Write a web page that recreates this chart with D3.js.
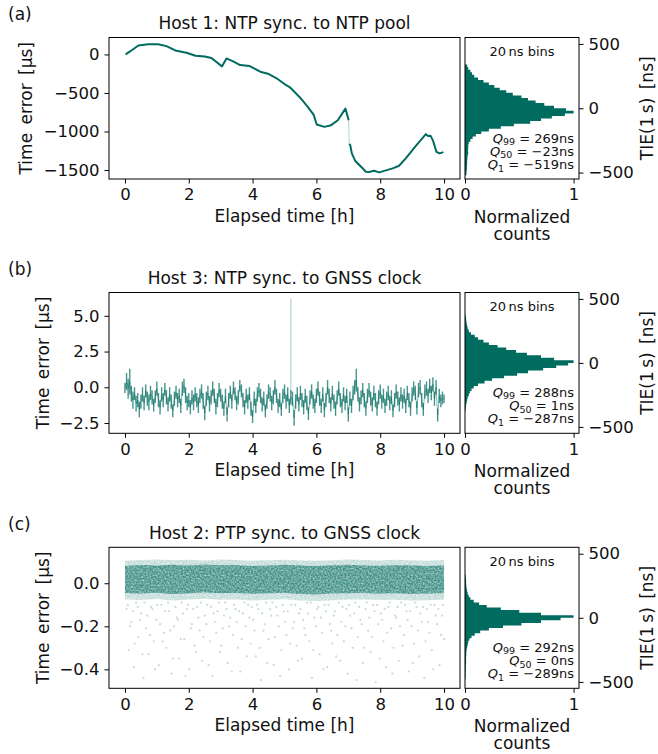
<!DOCTYPE html>
<html><head><meta charset="utf-8">
<script src="https://cdn.jsdelivr.net/npm/d3@7"></script>
<style>
body{margin:0;background:#fff;}
text{font-family:"DejaVu Sans",sans-serif;fill:#111;}
</style></head><body>
<svg id="chart" width="658" height="754"></svg>
<script>
// ---------------- data ----------------
const xTicks = [0, 2, 4, 6, 8, 10];
const histTicks = [-500, 0, 500];
const countTicks = [0, 1];
const titles = ["Host 1: NTP sync. to NTP pool", "Host 3: NTP sync. to GNSS clock", "Host 2: PTP sync. to GNSS clock"];
const panelLabels = ["(a)", "(b)", "(c)"];
const quantiles = [["269", "\u221223", "\u2212519"], ["288", "1", "\u2212287"], ["292", "0", "\u2212289"]];

// (a) Host 1 time error [µs]
const aHours1 = [0.02,0.16,0.42,0.73,1.04,1.30,1.61,1.93,2.21,2.50,2.71,3.04,3.18,3.39,3.61,3.91,4.27,4.48,4.74,5.00,5.16,5.47,5.73,5.91,6.01,6.25,6.46,6.67,6.91,7.01];
const aValues1 = [0,39,116,133,133,108,47,22,-17,-26,-47,-155,-52,-90,-138,-151,-229,-250,-306,-384,-423,-552,-681,-780,-910,-940,-918,-854,-703,-854];
const aHours2 = [7.03,7.06,7.11,7.22,7.40,7.55,7.65,7.81,7.97,8.18,8.39,8.59,8.80,9.11,9.43,9.50,9.58,9.66,9.76,9.86,9.98];
const aValues2 = [-1160,-1177,-1285,-1384,-1458,-1522,-1525,-1509,-1531,-1505,-1479,-1445,-1350,-1190,-1035,-1060,-1057,-1125,-1264,-1285,-1268];

// (b) Host 3 time error [µs]: spread of samples in each 0.05 h slot (high / low)
const bStep = 0.05;
const bHigh = [0.3,1.0,0.6,1.3,0.1,-0.3,0.0,-0.6,-0.4,-1.0,-0.5,0.0,-0.6,0.2,-0.3,-0.5,0.1,-0.2,-0.8,-0.2,
0.4,-0.4,-0.9,0.0,-0.4,0.3,-0.2,-0.7,0.0,-0.5,-1.2,-0.3,0.1,-0.4,-0.1,-0.8,0.4,0.6,0.0,-0.6,
-0.4,-0.9,-0.2,-0.5,0.0,-0.4,-0.7,-0.1,0.2,-0.4,-1.3,-0.3,0.1,-0.6,-0.2,0.4,-0.1,-0.8,-0.4,0.3,
-0.1,-0.5,-1.0,-0.1,-1.4,-0.4,0.1,-0.5,0.4,0.0,-0.6,-0.2,0.5,0.2,-0.4,-0.9,-0.1,-0.5,0.0,-1.0,
-1.6,-0.3,-0.8,0.0,0.3,-0.1,-0.7,-0.3,-1.2,-0.5,0.2,0.0,-0.6,-0.2,0.5,-0.1,-0.8,-0.4,-1.1,-0.1,
0.2,-0.5,0.0,-0.8,-0.2,-0.3,-1.6,-0.5,0.0,-0.7,0.1,-0.4,-0.9,-0.1,-0.6,-1.4,-0.2,0.2,-0.5,-0.8,
-0.1,0.4,-0.3,-0.8,0.0,-1.1,-0.4,0.5,-0.1,-0.7,0.1,-0.5,-1.0,-0.2,0.4,-0.4,-0.8,0.0,-0.6,-0.1,
-1.4,-0.3,-0.8,0.1,0.5,1.3,0.0,-0.7,-0.2,0.3,-0.4,-1.0,-0.1,0.3,-0.3,-0.7,0.1,-0.4,-1.0,-0.2,
0.2,-0.5,-0.1,-0.8,-0.3,0.1,-0.6,-0.2,-1.2,-0.4,0.2,-0.3,-0.7,0.0,-0.5,-0.1,-0.8,0.1,-0.4,-1.0,
0.0,0.4,0.1,-1.0,0.3,0.5,-0.4,-1.1,0.2,0.4,-0.1,0.6,0.1,0.7,-0.3,0.5,-1.5,-0.1,-0.5,-0.3,-0.5];
const bLow = [-0.4,-0.2,-0.8,-0.5,-1.0,-1.5,-0.9,-1.7,-1.4,-2.1,-1.5,-1.0,-1.6,-0.7,-1.3,-1.6,-0.9,-1.2,-1.7,-1.1,
-0.6,-1.4,-1.9,-1.0,-1.4,-0.6,-1.2,-1.7,-1.0,-1.5,-2.1,-1.3,-0.8,-1.4,-1.1,-1.8,-0.6,-0.4,-1.1,-1.6,
-1.4,-1.9,-1.2,-1.6,-1.0,-1.4,-1.8,-1.1,-0.8,-1.5,-2.3,-1.3,-0.9,-1.7,-1.2,-0.6,-1.1,-1.9,-1.4,-0.7,
-1.0,-1.5,-2.0,-1.1,-2.4,-1.4,-0.8,-1.5,-0.5,-0.9,-1.6,-1.2,-0.3,-0.7,-1.4,-1.9,-1.1,-1.5,-0.9,-2.0,
-2.5,-1.3,-1.8,-1.0,-0.7,-1.1,-1.7,-1.3,-2.1,-1.5,-0.8,-1.0,-1.6,-1.2,-0.5,-1.1,-1.8,-1.4,-2.0,-1.1,
-0.8,-1.5,-1.0,-1.8,-1.2,-1.3,-2.7,-1.5,-1.0,-1.7,-0.9,-1.4,-1.9,-1.1,-1.6,-2.3,-1.2,-0.8,-1.5,-1.8,
-1.1,-0.6,-1.3,-1.8,-1.0,-2.1,-1.4,-0.5,-1.1,-1.7,-0.9,-1.5,-2.0,-1.2,-0.6,-1.4,-1.8,-1.0,-1.6,-1.1,
-2.4,-1.3,-1.8,-0.9,-0.5,-0.3,-1.0,-1.7,-1.2,-0.7,-1.4,-2.0,-1.1,-0.7,-1.3,-1.7,-0.9,-1.4,-2.0,-1.2,
-0.8,-1.5,-1.1,-1.8,-1.3,-0.9,-1.6,-1.2,-2.1,-1.4,-0.8,-1.3,-1.7,-1.0,-1.5,-1.1,-1.8,-0.9,-1.4,-2.0,
-1.0,-0.6,-0.9,-1.9,-0.7,-0.5,-1.4,-2.0,-0.8,-0.6,-1.1,-0.4,-0.9,-0.3,-1.3,-0.5,-2.4,-1.1,-1.4,-1.2,-1.1];
const bSpikeHours = [5.2, 5.2];
const bSpikeValues = [-0.4, 6.2];

// (c) Host 2 time error [µs]: dense band envelopes and sparse outliers
const cHours = [0,0.5,1,1.5,2,2.5,3,3.5,4,4.5,5,5.5,6,6.5,7,7.5,8,8.5,9,9.5,10];
const cFringeTop = [0.105,0.108,0.11,0.107,0.109,0.106,0.11,0.108,0.105,0.107,0.109,0.106,0.104,0.107,0.11,0.108,0.106,0.109,0.107,0.105,0.108];
const cCoreTop = [0.08,0.085,0.083,0.086,0.082,0.087,0.084,0.085,0.08,0.083,0.086,0.082,0.08,0.084,0.086,0.083,0.081,0.085,0.083,0.08,0.082];
const cCoreBottom = [-0.045,-0.048,-0.044,-0.05,-0.046,-0.043,-0.047,-0.045,-0.049,-0.046,-0.044,-0.05,-0.052,-0.048,-0.046,-0.045,-0.049,-0.047,-0.05,-0.048,-0.046];
const cFringeBottom = [-0.075,-0.078,-0.073,-0.08,-0.076,-0.072,-0.077,-0.075,-0.08,-0.077,-0.074,-0.08,-0.083,-0.079,-0.076,-0.075,-0.078,-0.077,-0.08,-0.079,-0.077];
const cOutHours = [0.05,0.12,0.2,0.28,0.35,0.42,0.5,0.58,0.66,0.74,0.82,0.9,0.98,1.06,1.14,1.22,1.3,1.38,1.46,1.54,1.62,1.7,1.78,1.86,1.94,2.02,2.1,2.18,2.26,2.34,2.42,2.5,2.58,2.66,2.74,2.82,2.9,2.98,3.06,3.14,3.22,3.3,3.38,3.46,3.54,3.62,3.7,3.78,3.86,3.94,4.02,4.1,4.18,4.26,4.34,4.42,4.5,4.58,4.66,4.74,4.82,4.9,4.98,5.06,5.14,5.22,5.3,5.38,5.46,5.54,5.62,5.7,5.78,5.86,5.94,6.02,6.1,6.18,6.26,6.34,6.42,6.5,6.58,6.66,6.74,6.82,6.9,6.98,7.06,7.14,7.22,7.3,7.38,7.46,7.54,7.62,7.7,7.78,7.86,7.94,8.02,8.1,8.18,8.26,8.34,8.42,8.5,8.58,8.66,8.74,8.82,8.9,8.98,9.06,9.14,9.22,9.3,9.38,9.46,9.54,9.62,9.7,9.78,9.86,9.94,10.0];
const cOutValues = [-0.12,-0.31,-0.18,-0.39,-0.09,-0.25,-0.14,-0.44,-0.21,-0.33,-0.11,-0.27,-0.17,-0.38,-0.1,-0.23,-0.3,-0.13,-0.42,-0.2,-0.16,-0.35,-0.09,-0.26,-0.12,-0.4,-0.19,-0.29,-0.11,-0.22,-0.36,-0.15,-0.1,-0.27,-0.43,-0.18,-0.13,-0.32,-0.21,-0.09,-0.37,-0.16,-0.24,-0.12,-0.3,-0.41,-0.14,-0.2,-0.1,-0.28,-0.17,-0.34,-0.12,-0.45,-0.22,-0.09,-0.26,-0.15,-0.38,-0.11,-0.2,-0.31,-0.13,-0.24,-0.4,-0.1,-0.18,-0.29,-0.14,-0.35,-0.21,-0.09,-0.27,-0.44,-0.16,-0.12,-0.33,-0.23,-0.1,-0.39,-0.19,-0.28,-0.13,-0.24,-0.36,-0.11,-0.2,-0.42,-0.15,-0.3,-0.09,-0.25,-0.17,-0.37,-0.12,-0.22,-0.32,-0.1,-0.46,-0.19,-0.14,-0.27,-0.39,-0.11,-0.21,-0.3,-0.16,-0.36,-0.09,-0.24,-0.13,-0.41,-0.2,-0.28,-0.11,-0.34,-0.18,-0.44,-0.12,-0.23,-0.31,-0.1,-0.19,-0.38,-0.15,-0.26];
const cOutliers2 = [[0.09,-0.1],[0.16,-0.2],[0.25,-0.13],[0.31,-0.28],[0.4,-0.11],[0.47,-0.17],[0.55,-0.33],[0.61,-0.09],[0.7,-0.15],[0.79,-0.24],[0.86,-0.12],[0.94,-0.4],[1.02,-0.1],[1.1,-0.19],[1.18,-0.27],[1.26,-0.13],[1.35,-0.09],[1.42,-0.22],[1.5,-0.35],[1.58,-0.11],[1.66,-0.17],[1.75,-0.26],[1.82,-0.14],[1.9,-0.43],[1.98,-0.1],[2.06,-0.21],[2.14,-0.12],[2.22,-0.32],[2.3,-0.16],[2.38,-0.09],[2.46,-0.25],[2.55,-0.19],[2.62,-0.38],[2.7,-0.11],[2.78,-0.14],[2.86,-0.23],[2.95,-0.09],[3.02,-0.29],[3.1,-0.15],[3.18,-0.12],[3.26,-0.2],[3.35,-0.41],[3.42,-0.1],[3.5,-0.18],[3.58,-0.13],[3.66,-0.26],[3.74,-0.09],[3.82,-0.34],[3.9,-0.16],[3.98,-0.11],[4.06,-0.22],[4.14,-0.1],[4.22,-0.3],[4.3,-0.14],[4.38,-0.19],[4.46,-0.37],[4.55,-0.12],[4.62,-0.09],[4.7,-0.25],[4.78,-0.15],[4.86,-0.43],[4.94,-0.1],[5.02,-0.18],[5.1,-0.13],[5.18,-0.28],[5.26,-0.21],[5.34,-0.1],[5.42,-0.36],[5.5,-0.12],[5.58,-0.17],[5.66,-0.24],[5.74,-0.14],[5.82,-0.09],[5.9,-0.31],[5.98,-0.2],[6.06,-0.11],[6.14,-0.16],[6.22,-0.4],[6.3,-0.13],[6.38,-0.1],[6.46,-0.22],[6.54,-0.15],[6.62,-0.34],[6.7,-0.09],[6.78,-0.18],[6.86,-0.27],[6.94,-0.12],[7.02,-0.1],[7.1,-0.21],[7.18,-0.14],[7.26,-0.45],[7.34,-0.11],[7.42,-0.19],[7.5,-0.3],[7.58,-0.09],[7.66,-0.16],[7.74,-0.25],[7.82,-0.13],[7.9,-0.1],[7.98,-0.35],[8.06,-0.17],[8.14,-0.12],[8.22,-0.23],[8.3,-0.09],[8.38,-0.42],[8.46,-0.15],[8.54,-0.11],[8.62,-0.2],[8.7,-0.29],[8.78,-0.1],[8.86,-0.17],[8.94,-0.13],[9.02,-0.37],[9.1,-0.09],[9.18,-0.22],[9.26,-0.14],[9.34,-0.11],[9.42,-0.27],[9.5,-0.18],[9.58,-0.1],[9.66,-0.4],[9.74,-0.15],[9.82,-0.12],[9.9,-0.24],[9.97,-0.1]];

// histograms of TIE(1 s) [ns], 20 ns bins (centres, normalized counts)
const binWidth = 20;
const histACenters = [330,310,290,270,250,230,210,190,170,150,130,110,90,70,50,30,10,-10,-30,-50,-70,-90,-110,-130,-150,-170,-190,-210,-230,-250,-270,-290,-310,-330,-350,-370,-390,-410,-430,-450,-470,-490,-510];
const histACounts = [0.02,0.03,0.05,0.065,0.085,0.12,0.17,0.22,0.27,0.32,0.38,0.44,0.52,0.58,0.65,0.73,0.82,0.93,1.0,0.92,0.80,0.70,0.60,0.45,0.33,0.22,0.15,0.10,0.07,0.05,0.035,0.03,0.03,0.028,0.03,0.025,0.022,0.02,0.02,0.018,0.017,0.015,0.013];
const histBCenters = [370,350,330,310,290,270,250,230,210,190,170,150,130,110,90,70,50,30,10,-10,-30,-50,-70,-90,-110,-130,-150,-170,-190,-210,-230,-250,-270,-290,-310,-330,-350,-370];
const histBCounts = [0.005,0.01,0.012,0.015,0.02,0.025,0.035,0.055,0.09,0.12,0.17,0.22,0.30,0.38,0.47,0.57,0.70,0.82,1.0,0.95,0.84,0.72,0.58,0.48,0.36,0.25,0.18,0.12,0.08,0.06,0.045,0.035,0.025,0.02,0.015,0.01,0.008,0.005];
const histCCenters = [330,310,290,270,250,230,210,190,170,150,130,110,90,70,50,30,10,-10,-30,-50,-70,-90,-110,-130,-150,-170,-190,-210,-230,-250,-270,-290,-310,-330,-350,-370,-390,-410,-430,-450,-470];
const histCCounts = [0.005,0.008,0.01,0.01,0.012,0.015,0.02,0.025,0.035,0.05,0.08,0.13,0.20,0.33,0.50,0.70,1.0,0.88,0.70,0.52,0.35,0.22,0.14,0.09,0.06,0.04,0.03,0.025,0.02,0.015,0.012,0.012,0.01,0.01,0.01,0.008,0.008,0.007,0.006,0.006,0.005];

// ---------------- layout ----------------
const TEAL = "#006b5f";
const svg = d3.select("#chart");
const defs = svg.append("defs");
const flt = defs.append("filter").attr("id", "speck").attr("x", 0).attr("y", 0).attr("width", 1).attr("height", 1);
flt.append("feTurbulence").attr("type", "fractalNoise").attr("baseFrequency", 0.6).attr("numOctaves", 1).attr("seed", 7).attr("result", "n");
flt.append("feColorMatrix").attr("in", "n").attr("type", "matrix")
  .attr("values", "0 0 0 0 0  0 0 0 0 0  0 0 0 0 0  1.3 0 0 0 0.1").attr("result", "a");
flt.append("feComposite").attr("in", "SourceGraphic").attr("in2", "a").attr("operator", "in");

const rows = [
  {top: 37.5, bottom: 179, yDomain: [-1617, 220], yTicks: [-1500, -1000, -500, 0], fmt: d3.format("d"), labelX: 32},
  {top: 292.5, bottom: 433.3, yDomain: [-3.22, 6.63], yTicks: [-2.5, 0, 2.5, 5], fmt: d3.format(".1f"), labelX: 49},
  {top: 547.3, bottom: 688.3, yDomain: [-0.488, 0.167], yTicks: [-0.4, -0.2, 0], fmt: d3.format(".1f"), labelX: 49}
];
const mainL = 109, mainR = 460, histL = 465, histR = 579;
const TICK = 16.5, LAB = 17;

const hists = [[histACenters, histACounts], [histBCenters, histBCounts], [histCCenters, histCCounts]];

rows.forEach((r, i) => {
  const x = d3.scaleLinear().domain([-0.5, 10.5]).range([mainL, mainR]);
  const y = d3.scaleLinear().domain(r.yDomain).range([r.bottom, r.top]);
  const hx = d3.scaleLinear().domain([0, 1.05]).range([histL, histR]);
  const hy = d3.scaleLinear().domain([-550, 550]).range([r.bottom, r.top]);
  const g = svg.append("g");

  const cid = "clip" + i;
  defs.append("clipPath").attr("id", cid).append("rect")
    .attr("x", mainL).attr("y", r.top).attr("width", mainR - mainL).attr("height", r.bottom - r.top);
  const plot = g.append("g").attr("clip-path", `url(#${cid})`);
  const line = d3.line().x((d) => x(d[0])).y((d) => y(d[1]));

  if (i === 0) {
    const s1 = aHours1.map((h, k) => [h, aValues1[k]]);
    const s2 = aHours2.map((h, k) => [h, aValues2[k]]);
    plot.append("path").attr("d", line([s1[s1.length - 1], s2[0]]))
      .attr("fill", "none").attr("stroke", TEAL).attr("stroke-width", 1.2).attr("opacity", 0.25);
    [s1, s2].forEach((s) => plot.append("path").attr("d", line(s))
      .attr("fill", "none").attr("stroke", TEAL).attr("stroke-width", 2).attr("stroke-linejoin", "round"));
  } else if (i === 1) {
    const s = bHigh.map((v, k) => ({h: k * bStep, hi: v, lo: bLow[k]}));
    plot.append("path").attr("d", line(bSpikeHours.map((h, k) => [h, bSpikeValues[k]])))
      .attr("fill", "none").attr("stroke", TEAL).attr("stroke-width", 1.2).attr("opacity", 0.3);
    plot.selectAll("line.st").data(s).join("line").attr("class", "st")
      .attr("x1", (d) => x(d.h)).attr("x2", (d) => x(d.h))
      .attr("y1", (d) => y(d.hi)).attr("y2", (d) => y(d.lo))
      .attr("stroke", TEAL).attr("stroke-width", 1.4).attr("opacity", 0.72);
    plot.append("path").attr("d", line(s.map((d) => [d.h, (d.hi + d.lo) / 2])))
      .attr("fill", "none").attr("stroke", TEAL).attr("stroke-width", 0.8).attr("opacity", 0.6);
  } else {
    const fr = cHours.map((h, k) => [h, cFringeBottom[k], cFringeTop[k]]);
    const co = cHours.map((h, k) => [h, cCoreBottom[k], cCoreTop[k]]);
    const area = d3.area().x((d) => x(d[0])).y0((d) => y(d[1])).y1((d) => y(d[2]));
    plot.append("path").attr("d", area(fr)).attr("fill", TEAL).attr("opacity", 0.25).attr("filter", "url(#speck)");
    plot.append("path").attr("d", area(co)).attr("fill", TEAL).attr("opacity", 0.68).attr("filter", "url(#speck)");
    const outs = cOutHours.map((h, k) => [h, cOutValues[k]]).concat(cOutliers2);
    plot.selectAll("circle").data(outs).join("circle")
      .attr("cx", (d) => x(d[0])).attr("cy", (d) => y(d[1])).attr("r", 1.1)
      .attr("fill", TEAL).attr("opacity", 0.24);
  }

  g.append("rect").attr("x", mainL).attr("y", r.top).attr("width", mainR - mainL).attr("height", r.bottom - r.top)
    .attr("fill", "none").attr("stroke", "#000").attr("stroke-width", 1);
  const ax = g.append("g").attr("transform", `translate(0,${r.bottom})`)
    .call(d3.axisBottom(x).tickValues(xTicks).tickSize(4.5).tickPadding(5).tickFormat(d3.format("d")));
  const ay = g.append("g").attr("transform", `translate(${mainL},0)`)
    .call(d3.axisLeft(y).tickValues(r.yTicks).tickSize(4.5).tickPadding(5).tickFormat(r.fmt));
  [ax, ay].forEach((a) => {
    a.select(".domain").remove();
    a.selectAll("text").attr("font-size", TICK).attr("font-family", "DejaVu Sans").attr("fill", "#111");
    a.selectAll("line").attr("stroke", "#000");
  });

  g.append("text").attr("x", (mainL + mainR) / 2).attr("y", r.top - 8.5).attr("text-anchor", "middle")
    .attr("font-size", LAB).text(titles[i]);
  g.append("text").attr("x", 8).attr("y", r.top - 17.5).attr("font-size", LAB).text(panelLabels[i]);
  g.append("text").attr("x", (mainL + mainR) / 2).attr("y", r.bottom + 43).attr("text-anchor", "middle")
    .attr("font-size", LAB).text("Elapsed time [h]");
  g.append("text").attr("transform", `translate(${r.labelX},${(r.top + r.bottom) / 2}) rotate(-90)`)
    .attr("text-anchor", "middle").attr("font-size", LAB).attr("word-spacing", "3px").text("Time error [µs]");

  // histogram
  const [cen, cnt] = hists[i];
  const pts = [[0, cen[0] + binWidth / 2]];
  cen.forEach((c, k) => { pts.push([cnt[k], c + binWidth / 2]); pts.push([cnt[k], c - binWidth / 2]); });
  pts.push([0, cen[cen.length - 1] - binWidth / 2]);
  const hline = d3.line().x((d) => hx(d[0])).y((d) => hy(d[1]));
  g.append("path").attr("d", hline(pts) + "Z").attr("fill", TEAL);
  g.append("rect").attr("x", histL).attr("y", r.top).attr("width", histR - histL).attr("height", r.bottom - r.top)
    .attr("fill", "none").attr("stroke", "#000").attr("stroke-width", 1);
  const hax = g.append("g").attr("transform", `translate(0,${r.bottom})`)
    .call(d3.axisBottom(hx).tickValues(countTicks).tickSize(4.5).tickPadding(5).tickFormat(d3.format("d")));
  const hay = g.append("g").attr("transform", `translate(${histR},0)`)
    .call(d3.axisRight(hy).tickValues(histTicks).tickSize(4.5).tickPadding(5).tickFormat(d3.format("d")));
  [hax, hay].forEach((a) => {
    a.select(".domain").remove();
    a.selectAll("text").attr("font-size", TICK).attr("font-family", "DejaVu Sans").attr("fill", "#111");
    a.selectAll("line").attr("stroke", "#000");
  });
  g.append("text").attr("x", (histL + histR) / 2).attr("y", r.bottom + 44).attr("text-anchor", "middle")
    .attr("font-size", LAB).text("Normalized");
  g.append("text").attr("x", (histL + histR) / 2).attr("y", r.bottom + 61).attr("text-anchor", "middle")
    .attr("font-size", LAB).text("counts");
  g.append("text").attr("transform", `translate(653,${(r.top + r.bottom) / 2}) rotate(-90)`)
    .attr("text-anchor", "middle").attr("font-size", LAB).attr("word-spacing", "3px").text("TIE(1\u2009s) [ns]");

  g.append("text").attr("x", (histL + histR) / 2).attr("y", r.top + 18.5).attr("text-anchor", "middle")
    .attr("font-size", 13).text("20\u2009ns bins");
  const qs = quantiles[i];
  const subs = ["99", "50", "1"];
  subs.forEach((s, k) => {
    const t = g.append("text").attr("x", 574).attr("y", r.bottom - 36.5 + k * 13.3)
      .attr("text-anchor", "end").attr("font-size", 13);
    t.append("tspan").attr("font-style", "italic").text("Q");
    t.append("tspan").attr("font-size", 9.5).attr("dy", 2.5).text(s);
    t.append("tspan").attr("dy", -2.5).text(" = " + qs[k] + "ns");
  });
});
</script>
</body></html>
